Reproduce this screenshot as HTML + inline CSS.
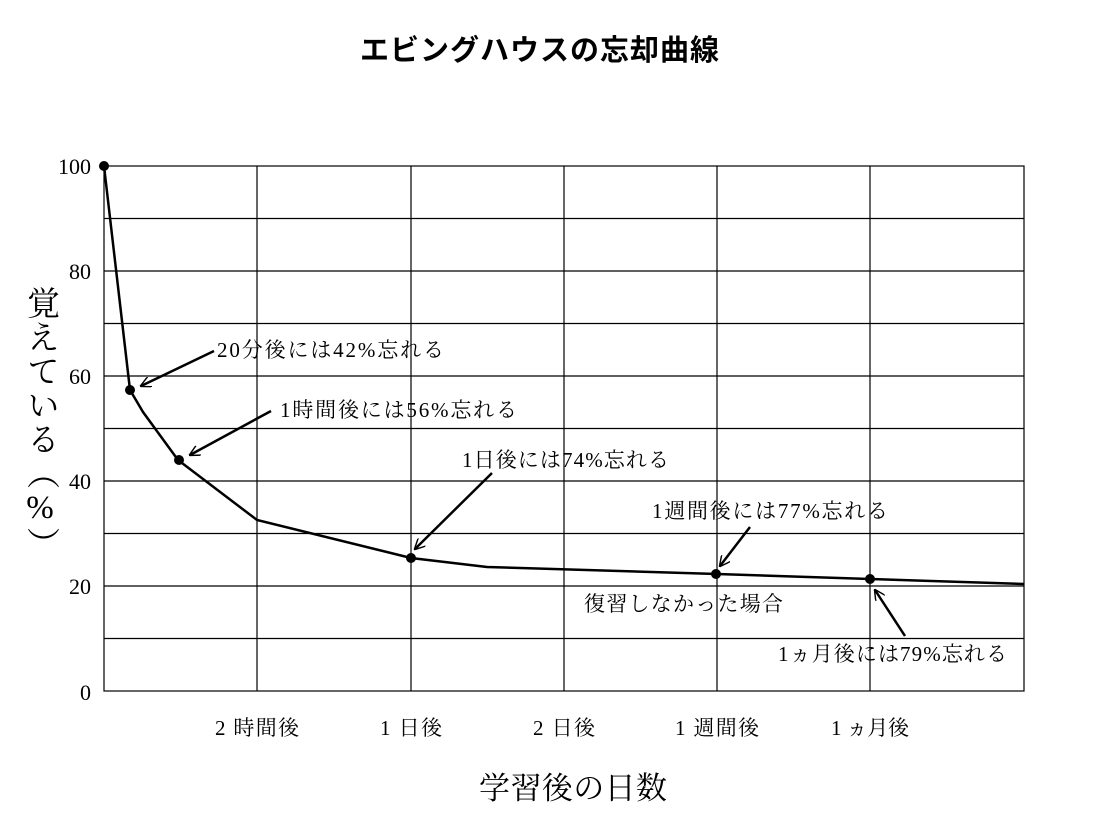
<!DOCTYPE html>
<html><head><meta charset="utf-8"><style>
body{margin:0;background:#fff;position:relative;}
svg{display:block;font-family:"Liberation Serif","Noto Serif CJK JP",serif;}
#yl{position:absolute;left:22px;top:286px;writing-mode:vertical-rl;text-orientation:upright;font-family:"Liberation Serif","Noto Serif CJK JP",serif;font-size:33px;line-height:36px;letter-spacing:1px;}
</style></head><body>
<svg width="1095" height="832" viewBox="0 0 1095 832" xmlns="http://www.w3.org/2000/svg">
<defs><marker id="a" viewBox="0 0 10 10" refX="9" refY="5" markerWidth="11" markerHeight="11" orient="auto" markerUnits="userSpaceOnUse"><path d="M0,0 L10,5 L0,10" fill="none" stroke="#000" stroke-width="1.3"/></marker></defs>
<text x="540" y="60" text-anchor="middle" font-family="'Noto Sans CJK JP',sans-serif" font-weight="bold" font-size="29" letter-spacing="1">エビングハウスの忘却曲線</text>
<g stroke="#000" stroke-width="1.2" fill="none">
<rect x="104" y="166" width="920" height="525"/>
<line x1="104" y1="218.5" x2="1024" y2="218.5"/><line x1="104" y1="271" x2="1024" y2="271"/>
<line x1="104" y1="323.5" x2="1024" y2="323.5"/><line x1="104" y1="376" x2="1024" y2="376"/>
<line x1="104" y1="428.5" x2="1024" y2="428.5"/><line x1="104" y1="481" x2="1024" y2="481"/>
<line x1="104" y1="533.5" x2="1024" y2="533.5"/><line x1="104" y1="586" x2="1024" y2="586"/>
<line x1="104" y1="638.5" x2="1024" y2="638.5"/>
<line x1="257" y1="166" x2="257" y2="691"/><line x1="411" y1="166" x2="411" y2="691"/>
<line x1="564" y1="166" x2="564" y2="691"/><line x1="717" y1="166" x2="717" y2="691"/>
<line x1="870" y1="166" x2="870" y2="691"/>
</g>
<polyline fill="none" stroke="#000" stroke-width="2.5" points="104,166 130,390 143,412 178,460 257,520 411,558 487,567 717,574 870,579 1024,584"/>
<g fill="#000"><circle cx="104" cy="166" r="5"/><circle cx="130" cy="390" r="5"/><circle cx="179" cy="460" r="5"/><circle cx="411" cy="558" r="5"/><circle cx="716" cy="574" r="5"/><circle cx="870" cy="579" r="5"/></g>
<g stroke="#000" stroke-width="2.5" marker-end="url(#a)">
<line x1="214" y1="351" x2="141" y2="386"/>
<line x1="271" y1="411" x2="190" y2="455"/>
<line x1="492" y1="473" x2="415" y2="549"/>
<line x1="750" y1="527" x2="720" y2="566"/>
<line x1="905" y1="636" x2="875" y2="590"/>
</g>
<g font-size="22" text-anchor="end">
<text x="91" y="174">100</text><text x="91" y="279">80</text><text x="91" y="384">60</text>
<text x="91" y="489">40</text><text x="91" y="594">20</text><text x="91" y="700">0</text>
</g>
<g font-size="21" letter-spacing="1">
<text x="217" y="357" textLength="228">20分後には42%忘れる</text>
<text x="280" y="417" textLength="238">1時間後には56%忘れる</text>
<text x="462" y="467" textLength="208">1日後には74%忘れる</text>
<text x="652" y="518" textLength="237">1週間後には77%忘れる</text>
<text x="584" y="611" textLength="200">復習しなかった場合</text>
<text x="778" y="661" textLength="230">1ヵ月後には79%忘れる</text>
</g>
<g font-size="21" text-anchor="middle">
<text x="257" y="735" textLength="84">2 時間後</text><text x="411" y="735" textLength="62">1 日後</text><text x="564" y="735" textLength="62">2 日後</text>
<text x="717" y="735" textLength="84">1 週間後</text><text x="870" y="735" textLength="78">1 ヵ月後</text>
</g>
<text x="573" y="799" text-anchor="middle" font-size="31" textLength="188">学習後の日数</text>
</svg>
<div id="yl">覚えている（%）</div>
</body></html>
